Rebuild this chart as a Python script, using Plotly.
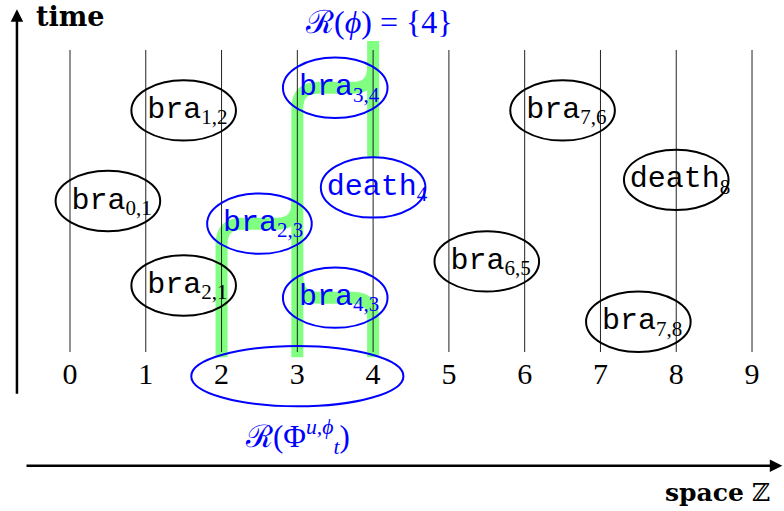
import plotly.graph_objects as go

# ---------------- data ----------------
space_ticks = list(range(10))          # sites of Z shown
t_bottom, t_top = 0.0, 10.0            # time extent of the world lines

event_names = ["bra", "bra", "bra", "bra", "bra", "death", "bra", "bra", "bra", "death", "bra"]
event_subs = ["0,1", "1,2", "2,1", "2,3", "3,4", "4", "4,3", "6,5", "7,6", "8", "7,8"]
event_x = [0.5, 1.5, 1.5, 2.5, 3.5, 4.0, 3.5, 5.5, 6.5, 8.0, 7.5]
event_t = [5.0, 8.0, 2.2, 4.25, 8.75, 5.45, 1.8, 3.0, 8.0, 5.7, 1.0]
event_in_R = [False, False, False, True, True, True, True, False, False, False, False]

# highlighted branchings (parent site -> child site, time)
branch_from = [2, 3, 4]
branch_to = [3, 4, 3]
branch_t = [4.25, 8.75, 1.8]
# highlighted straight pieces of world lines (site, t_start, t_end)
seg_x = [2, 3, 4, 4]
seg_t0 = [-0.17, -0.17, -0.17, 6.45]
seg_t1 = [4.25, 8.75, 1.8, 10.3]

# region set R(Phi) : ellipse around sites 2..4
region_sites = [2, 3, 4]

# ---------------- geometry ----------------
PX_X = 75.78   # px per space unit
PX_T = 30.2    # px per time unit
W, H = 784, 511
x0_px, t0_px = 70, 352
xr = [-x0_px / PX_X, (W - x0_px) / PX_X]
yr = [(t0_px - H) / PX_T, t0_px / PX_T]

BLUE = "#0000ff"
GREEN = "#80ff80"
rx, rt = 0.27, 0.68
hx, ht = 0.69, 1.0

fig = go.Figure()
shapes = []

# green highlight: straight segments (stop where a branching corner starts)
for sx, a, b in zip(seg_x, seg_t0, seg_t1):
    if any(bf == sx and abs(bt - b) < 1e-9 for bf, bt in zip(branch_from, branch_t)):
        b = b - rt
    shapes.append(dict(type="line", xref="x", yref="y", x0=sx, x1=sx, y0=a, y1=b,
                       line=dict(color=GREEN, width=12), layer="below"))
# green highlight: branching with rounded corners
for a, b, t in zip(branch_from, branch_to, branch_t):
    d = 1 if b > a else -1
    path = (f"M {a},{t - rt} Q {a},{t} {a + d * rx},{t} "
            f"L {b - d * rx},{t} Q {b},{t} {b},{t + rt}")
    shapes.append(dict(type="path", xref="x", yref="y", path=path,
                       line=dict(color=GREEN, width=12), layer="below"))

# world lines
lx, ly = [], []
for s in space_ticks:
    lx += [s, s, None]
    ly += [t_bottom, t_top, None]
fig.add_trace(go.Scatter(x=lx, y=ly, mode="lines", line=dict(color="#222222", width=1),
                         hoverinfo="skip", showlegend=False))

# event ellipses
for x, t, hl in zip(event_x, event_t, event_in_R):
    shapes.append(dict(type="circle", xref="x", yref="y", x0=x - hx, x1=x + hx,
                       y0=t - ht, y1=t + ht,
                       line=dict(color=BLUE if hl else "black", width=2), layer="above"))
# region ellipse
cx = sum(region_sites) / len(region_sites)
shapes.append(dict(type="circle", xref="x", yref="y", x0=cx - 1.4, x1=cx + 1.4,
                   y0=-0.8 - 1.0, y1=-0.8 + 1.0, line=dict(color=BLUE, width=2), layer="above"))

# event labels
labels = [f"{n}<sub><span style='font-family:Liberation Serif'>{s}</span></sub>"
          for n, s in zip(event_names, event_subs)]
fig.add_trace(go.Scatter(x=[x + 0.05 for x in event_x], y=event_t, mode="text", text=labels,
                         textfont=dict(family="Liberation Mono", size=30,
                                       color=[BLUE if h else "black" for h in event_in_R]),
                         hoverinfo="skip", showlegend=False))

# tick labels
fig.add_trace(go.Scatter(x=space_ticks, y=[-0.8] * len(space_ticks), mode="text",
                         text=[str(s) for s in space_ticks],
                         textfont=dict(family="Liberation Serif", size=30, color="black"),
                         hoverinfo="skip", showlegend=False))

ann = []
# axes arrows
ann.append(dict(x=-0.70, y=11.35, ax=-0.70, ay=-1.43, xref="x", yref="y", axref="x", ayref="y",
                showarrow=True, arrowhead=2, arrowsize=1, arrowwidth=2.5, arrowcolor="black", text=""))
ann.append(dict(x=9.40, y=-3.77, ax=-0.594, ay=-3.77, xref="x", yref="y", axref="x", ayref="y",
                showarrow=True, arrowhead=2, arrowsize=1, arrowwidth=2.5, arrowcolor="black", text=""))
ann.append(dict(x=(34 - x0_px) / PX_X, y=(t0_px - 16) / PX_T, xref="x", yref="y", text="<b>time</b>",
                showarrow=False, xanchor="left", yanchor="middle",
                font=dict(family="DejaVu Serif", size=27, color="black")))
ann.append(dict(x=(772 - x0_px) / PX_X, y=(t0_px - 492) / PX_T, xref="x", yref="y",
                text="<b>space</b> ℤ", showarrow=False, xanchor="right", yanchor="middle",
                font=dict(family="DejaVu Serif", size=25, color="black")))
ann.append(dict(x=(379 - x0_px) / PX_X, y=(t0_px - 22) / PX_T, xref="x", yref="y",
                text="ℛ(<i>ϕ</i>) = {4}", showarrow=False, xanchor="center", yanchor="middle",
                font=dict(family="Liberation Serif", size=32, color=BLUE)))
ann.append(dict(x=(297 - x0_px) / PX_X, y=(t0_px - 437) / PX_T, xref="x", yref="y",
                text="ℛ(Φ<sup><i>u,ϕ</i></sup><sub><i>t</i></sub>)", showarrow=False,
                xanchor="center", yanchor="middle",
                font=dict(family="Liberation Serif", size=31, color=BLUE)))

fig.update_layout(width=W, height=H, margin=dict(l=0, r=0, t=0, b=0),
                  plot_bgcolor="white", paper_bgcolor="white",
                  xaxis=dict(range=xr, visible=False, fixedrange=True),
                  yaxis=dict(range=yr, visible=False, fixedrange=True),
                  shapes=shapes, annotations=ann, showlegend=False)
fig.write_html("out.html", config={"displayModeBar": False},
               post_script="document.body.style.margin='0';document.body.style.overflow='hidden';")
